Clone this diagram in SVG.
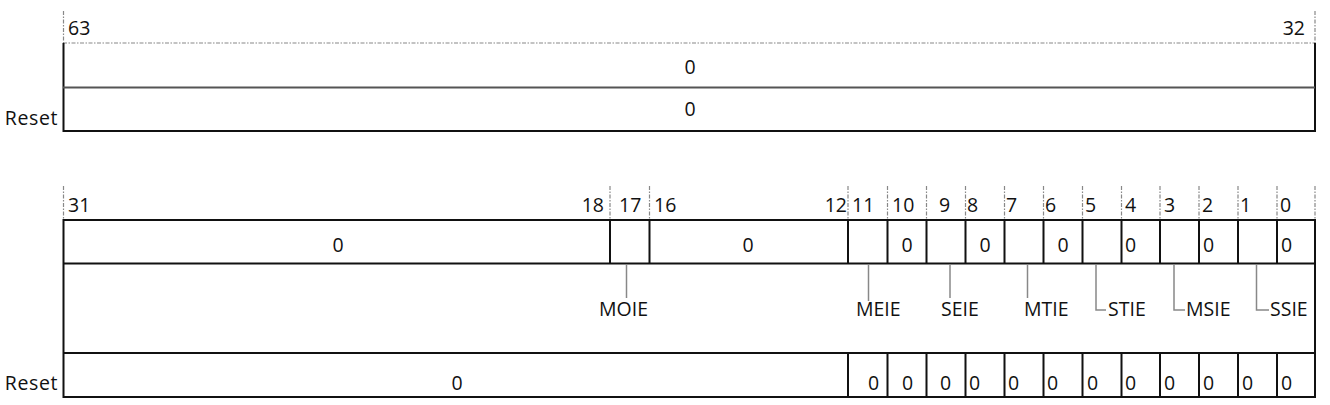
<svg xmlns="http://www.w3.org/2000/svg" width="1330" height="405" viewBox="0 0 1330 405">
<style>
text{font-family:"Open Sans","Liberation Sans",Arial,sans-serif;font-size:19.5px;fill:#111}
.m{text-anchor:middle}
.e{text-anchor:end}
.r{letter-spacing:0.6px}
.b{stroke:#111;stroke-width:2;fill:none}
.g{stroke:#555;stroke-width:2;fill:none}
.d{stroke:#888;stroke-width:1.2;stroke-dasharray:4 1.5 1.5 1.5;fill:none}
.l{stroke:#888;stroke-width:1.5;fill:none}
</style>
<rect width="1330" height="405" fill="#fff"/>

<g id="upper-register">
  <line class="d" x1="63.5" y1="11" x2="63.5" y2="43"/>
  <line class="d" x1="1315" y1="11" x2="1315" y2="43"/>
  <line class="d" x1="63" y1="43" x2="1315" y2="43"/>
  <text x="68" y="35">63</text>
  <text class="e" x="1305" y="35">32</text>
  <path class="b" d="M63.5 43V131H1315V43"/>
  <line class="g" x1="63" y1="87.5" x2="1315" y2="87.5"/>
  <text class="m" x="690" y="74">0</text>
  <text class="m" x="690" y="116">0</text>
  <text class="e r" x="58" y="125">Reset</text>
</g>

<g id="lower-register">
  <g id="bit-ticks">
    <path class="d" d="M63.5 186V220M610 186V220M649.5 186V220M848 186V220M887.5 186V220M926.5 186V220M965.5 186V220M1004.5 186V220M1043.5 186V220M1082.5 186V220M1121.5 186V220M1160 186V220M1199 186V220M1238 186V220M1277 186V220M1315 186V220"/>
    <text x="68" y="212">31</text>
    <text class="e" x="604" y="212">18</text>
    <text x="619" y="212">17</text>
    <text x="654" y="212">16</text>
    <text class="e" x="847" y="212">12</text>
    <text x="852" y="212">11</text>
    <text x="892" y="212">10</text>
    <text x="939" y="212">9</text>
    <text x="967" y="212">8</text>
    <text x="1006" y="212">7</text>
    <text x="1045" y="212">6</text>
    <text x="1085" y="212">5</text>
    <text x="1125" y="212">4</text>
    <text x="1164" y="212">3</text>
    <text x="1202" y="212">2</text>
    <text x="1240" y="212">1</text>
    <text x="1280" y="212">0</text>
  </g>
  <path class="b" d="M63.5 220H1315V397H63.5Z"/>
  <path class="b" d="M63 263.5H1315M63 353H1315"/>
  <path class="b" d="M610 220V263.5M649.5 220V263.5M848 220V263.5M887.5 220V263.5M926.5 220V263.5M965.5 220V263.5M1004.5 220V263.5M1043.5 220V263.5M1082.5 220V263.5M1121.5 220V263.5M1160 220V263.5M1199 220V263.5M1238 220V263.5M1277 220V263.5"/>
  <path class="b" d="M848 353V397M887.5 353V397M926.5 353V397M965.5 353V397M1004.5 353V397M1043.5 353V397M1082.5 353V397M1121.5 353V397M1160 353V397M1199 353V397M1238 353V397M1277 353V397"/>

  <g id="field-31-18"><text class="m" x="338" y="252">0</text></g>
  <g id="field-MOIE"></g>
  <g id="field-16-12"><text class="m" x="748" y="252">0</text></g>
  <g id="field-MEIE"></g>
  <g id="field-10"><text class="m" x="907" y="252">0</text></g>
  <g id="field-SEIE"></g>
  <g id="field-8"><text class="m" x="985" y="252">0</text></g>
  <g id="field-MTIE"></g>
  <g id="field-6"><text class="m" x="1063" y="252">0</text></g>
  <g id="field-STIE"></g>
  <g id="field-4"><text x="1125" y="252">0</text></g>
  <g id="field-MSIE"></g>
  <g id="field-2"><text x="1203" y="252">0</text></g>
  <g id="field-SSIE"></g>
  <g id="field-0"><text x="1281" y="252">0</text></g>

  <g id="reset-row">
    <text class="e r" x="58" y="390">Reset</text>
    <text class="m" x="457" y="390">0</text>
    <text x="868" y="390">0</text>
    <text x="902" y="390">0</text>
    <text x="940" y="390">0</text>
    <text x="969" y="390">0</text>
    <text x="1008" y="390">0</text>
    <text x="1047" y="390">0</text>
    <text x="1087" y="390">0</text>
    <text x="1125" y="390">0</text>
    <text x="1164" y="390">0</text>
    <text x="1203" y="390">0</text>
    <text x="1242" y="390">0</text>
    <text x="1281" y="390">0</text>
  </g>

  <g id="labels">
    <text x="599" y="316">MOIE</text>
    <text x="856" y="316">MEIE</text>
    <text x="941" y="316">SEIE</text>
    <text x="1024" y="316">MTIE</text>
    <text x="1108" y="316">STIE</text>
    <text x="1186" y="316">MSIE</text>
    <text x="1270" y="316">SSIE</text>
  </g>
</g>

<g id="connectors">
  <path class="l" d="M626.5 264.5V298"/>
  <path class="l" d="M868.5 264.5V301"/>
  <path class="l" d="M950 264.5V298"/>
  <path class="l" d="M1027.5 264.5V298"/>
  <path class="l" d="M1096 264.5V310H1106"/>
  <path class="l" d="M1174 264.5V310H1185"/>
  <path class="l" d="M1256.5 264.5V310H1269"/>
</g>
</svg>
